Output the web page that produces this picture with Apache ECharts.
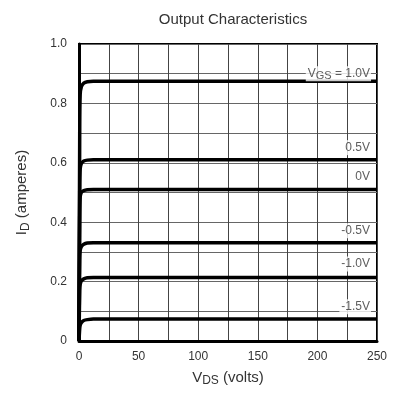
<!DOCTYPE html>
<html>
<head>
<meta charset="utf-8">
<script src="https://cdn.jsdelivr.net/npm/echarts@6/dist/echarts.min.js"></script>
<style>html,body{margin:0;padding:0;background:#fff}#c{width:400px;height:398px}</style>
</head>
<body>
<div id="c"></div>
<script>
// Curves: [V_DS (volts), I_D (amperes)]
var curveVgs10 = [[0,0],[0.6,0.7],[1,0.83],[2,0.856],[4,0.868],[7,0.873],[12,0.875],[250,0.875]];
var curveVgs05 = [[0,0],[0.6,0.5],[1,0.58],[2,0.598],[4,0.606],[7,0.609],[12,0.61],[250,0.61]];
var curveVgs00 = [[0,0],[0.6,0.42],[1,0.485],[2,0.5],[4,0.506],[7,0.509],[12,0.51],[250,0.51]];
var curveVgsM05 = [[0,0],[0.6,0.27],[1,0.305],[2,0.318],[4,0.326],[7,0.33],[12,0.331],[250,0.331]];
var curveVgsM10 = [[0,0],[0.6,0.17],[1,0.19],[2,0.203],[4,0.209],[7,0.213],[12,0.214],[250,0.214]];
var curveVgsM15 = [[0,0],[0.6,0.042],[1,0.053],[2,0.062],[4,0.069],[7,0.072],[12,0.074],[250,0.074]];
var curves = [curveVgs10, curveVgs05, curveVgs00, curveVgsM05, curveVgsM10, curveVgsM15];

// Curve labels and where they sit
var labelTexts = ['{v|V}{sub|GS}{v| = 1.0V}', '{v|0.5V}', '{v|0V}', '{v|-0.5V}', '{v|-1.0V}', '{v|-1.5V}'];
var labelYs = [0.9, 0.651, 0.553, 0.371, 0.259, 0.115];
var labelX = 245;

var xTicks = [0, 50, 100, 150, 200, 250];
var yTicks = [0, 0.2, 0.4, 0.6, 0.8, 1.0];

var FONT = 'Liberation Sans, Arial, sans-serif';
var rich = {
  v: {fontSize: 12, color: '#333', fontFamily: FONT, lineHeight: 15, verticalAlign: 'middle'},
  sub: {fontSize: 11, color: '#333', fontFamily: FONT, lineHeight: 15, padding: [5, 0, 0, 0], verticalAlign: 'middle'}
};

var series = curves.map(function (d) {
  return {type: 'line', data: d, symbol: 'none', smooth: 0.3, clip: true,
    lineStyle: {color: '#000', width: 3.5}, z: 3, silent: true};
});
series.push({
  type: 'scatter', symbolSize: 0, z: 5, silent: true,
  data: labelYs.map(function (y, i) { return {value: [labelX, y], name: labelTexts[i]}; }),
  label: {show: true, position: 'inside', align: 'right', verticalAlign: 'middle',
    formatter: function (p) { return p.name; }, rich: rich,
    backgroundColor: '#fff', padding: [0, 1, 0, 2]}
});

var nameRich = {n: {fontSize: 15, color: '#333', fontFamily: FONT, lineHeight: 18},
  s: {fontSize: 12, color: '#333', fontFamily: FONT, lineHeight: 18, padding: [7, 0, 0, 0]}};

var chart = echarts.init(document.getElementById('c'), null, {renderer: 'canvas'});
chart.setOption({
  animation: false,
  backgroundColor: '#fff',
  title: {text: 'Output Characteristics', left: 228, textAlign: 'center', top: 7,
    textStyle: {fontSize: 15, fontWeight: 'normal', color: '#333', fontFamily: FONT}},
  grid: {left: 79, right: 23, top: 44, bottom: 57, show: true, borderColor: '#000', borderWidth: 2, backgroundColor: 'transparent'},
  xAxis: {type: 'value', min: 0, max: 250, interval: 25,
    name: '{n|V}{s|DS}{n| (volts)}', nameLocation: 'middle', nameGap: 27,
    nameTextStyle: {rich: nameRich},
    axisLine: {show: true, lineStyle: {color: '#000', width: 3}},
    axisTick: {show: false},
    splitLine: {show: true, lineStyle: {color: '#444', width: 1}},
    axisLabel: {fontSize: 12, color: '#333', fontFamily: FONT, margin: 10,
      formatter: function (v) { return xTicks.indexOf(v) >= 0 ? String(v) : ''; }}
  },
  yAxis: {type: 'value', min: 0, max: 1, interval: 0.1,
    name: '{n|I}{s|D}{n| (amperes)}', nameLocation: 'middle', nameGap: 48, nameRotate: 90,
    nameTextStyle: {rich: nameRich},
    axisLine: {show: true, lineStyle: {color: '#000', width: 3}},
    axisTick: {show: false},
    splitLine: {show: true, lineStyle: {color: '#666', width: 1}},
    axisLabel: {fontSize: 12, color: '#333', fontFamily: FONT, margin: 12,
      formatter: function (v) {
        for (var i = 0; i < yTicks.length; i++) {
          if (Math.abs(yTicks[i] - v) < 1e-6) return v === 0 ? '0' : yTicks[i].toFixed(1);
        }
        return '';
      }}
  },
  series: series
});
</script>
</body>
</html>
